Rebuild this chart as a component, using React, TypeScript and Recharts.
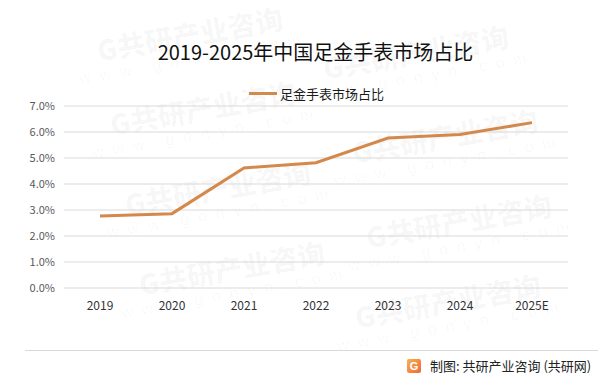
import React from "react";
import { CartesianGrid, Legend, Line, LineChart, XAxis, YAxis } from "recharts";

const years = ["2019", "2020", "2021", "2022", "2023", "2024", "2025E"];
const share = [2.77, 2.86, 4.62, 4.82, 5.77, 5.9, 6.36];
const yTicks = [0, 1, 2, 3, 4, 5, 6, 7];
const seriesName = "足金手表市场占比";
const title = "2019-2025年中国足金手表市场占比";

const data = years.map((year, i) => ({ year, share: share[i] }));

const LINE = "#D4894C";
const FONT = '"Noto Sans CJK SC", "Noto Sans", sans-serif';

// faint company watermark tiles in the background
const marks = [
  [72, 38], [85, 112], [100, 192], [114, 272],
  [298, 56], [327, 140], [341, 225], [330, 305],
];

const Watermark = ({ x, y }: { x: number; y: number }) => (
  <div
    style={{
      position: "absolute",
      left: x,
      top: y,
      transform: "rotate(-10deg)",
      transformOrigin: "left top",
      color: "rgba(0,0,0,0.035)",
      whiteSpace: "nowrap",
      textAlign: "center",
    }}
  >
    <div style={{ fontSize: 28, fontWeight: 900, lineHeight: "32px" }}>G共研产业咨询</div>
    <div style={{ fontSize: 16, letterSpacing: 9, lineHeight: "20px", fontFamily: "Arial, sans-serif" }}>
      www.gonyn.com
    </div>
  </div>
);

const renderLegend = () => (
  <div style={{ display: "flex", alignItems: "center", paddingLeft: 9, justifyContent: "center", width: 615 }}>
    <span style={{ display: "inline-block", width: 28, height: 3, background: LINE, marginRight: 3 }} />
    <span style={{ fontSize: 13, color: "#1a1a1a", fontFamily: FONT }}>{seriesName}</span>
  </div>
);

export default function App() {
  return (
    <div
      style={{
        position: "relative",
        width: 615,
        height: 388,
        margin: -8,
        background: "#fff",
        overflow: "hidden",
        fontFamily: FONT,
      }}
    >
      {marks.map(([x, y], i) => (
        <Watermark key={i} x={x} y={y} />
      ))}
      <div
        style={{
          position: "absolute",
          left: 4,
          top: 4,
          width: 607,
          height: 381,
          boxSizing: "border-box",
          border: "1px solid #d9d9d9",
        }}
      />
      <div
        style={{
          position: "absolute",
          left: 0,
          top: 41,
          width: 631,
          textAlign: "center",
          fontSize: 20,
          lineHeight: "22px",
          color: "#111",
        }}
      >
        {title}
      </div>
      <div style={{ position: "absolute", left: 0, top: 0 }}>
        <LineChart width={615} height={388} data={data} margin={{ top: 106, right: 47, left: 8, bottom: 70 }}>
          <CartesianGrid vertical={false} stroke="#d9d9d9" />
          <XAxis
            dataKey="year"
            axisLine={false}
            tickLine={false}
            tickMargin={7}
            padding={{ left: 36, right: 36 }}
            tick={{ fontSize: 12, fill: "#333", fontFamily: FONT }}
            interval={0}
          />
          <YAxis
            width={56}
            domain={[0, 7]}
            ticks={yTicks}
            axisLine={false}
            tickLine={false}
            tickMargin={3}
            tickFormatter={(v: number) => `${v.toFixed(1)}%`}
            tick={{ fontSize: 11, fill: "#595959", fontFamily: FONT }}
          />
          <Legend
            verticalAlign="middle"
            align="center"
            content={renderLegend}
            wrapperStyle={{ top: 84, left: 0, width: 615 }}
          />
          <Line
            type="linear"
            dataKey="share"
            name={seriesName}
            stroke={LINE}
            strokeWidth={3}
            dot={false}
            isAnimationActive={false}
          />
        </LineChart>
      </div>
      <div style={{ position: "absolute", left: 25, top: 350, width: 573, height: 1, background: "#d9d9d9" }} />
      <div
        style={{
          position: "absolute",
          left: 407,
          top: 359,
          width: 14,
          height: 14,
          borderRadius: 2,
          background: "linear-gradient(135deg, #f9b04f, #ec6a3a)",
          color: "#fff",
          fontSize: 11,
          fontWeight: 700,
          lineHeight: "14px",
          textAlign: "center",
          fontFamily: "Arial, sans-serif",
        }}
      >
        G
      </div>
      <div
        style={{
          position: "absolute",
          left: 430,
          top: 357,
          fontSize: 13,
          lineHeight: "18px",
          color: "#222",
          whiteSpace: "nowrap",
        }}
      >
        制图: 共研产业咨询 (共研网)
      </div>
    </div>
  );
}
